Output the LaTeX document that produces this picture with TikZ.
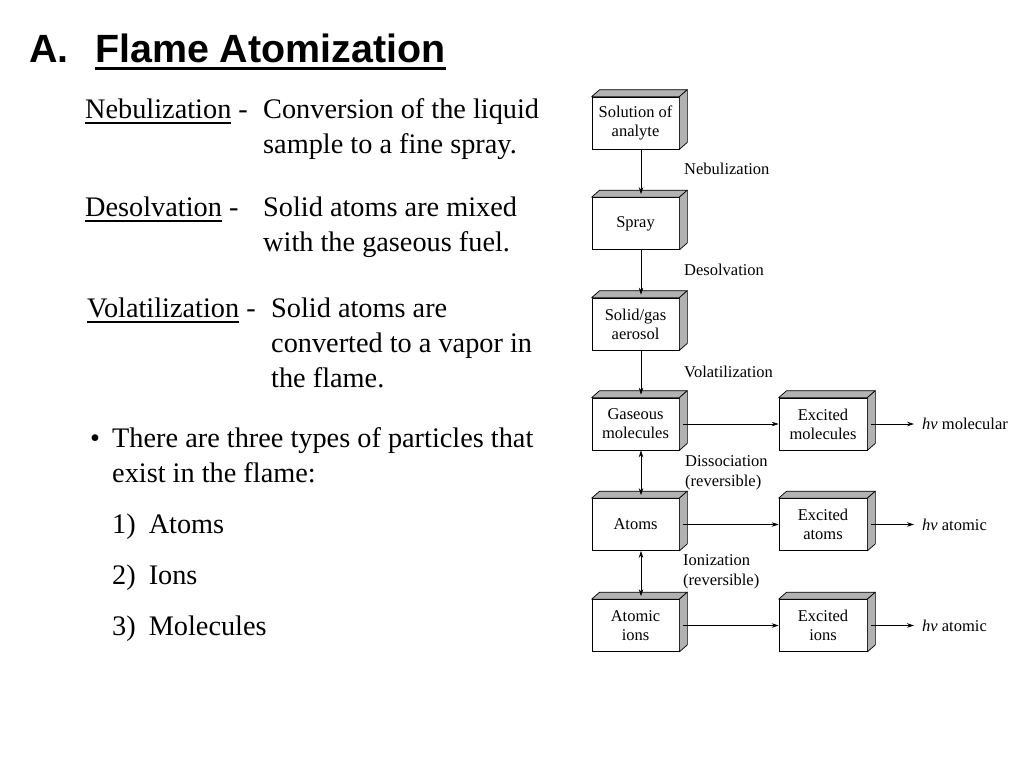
\documentclass[tikz,border=0pt]{standalone}
\usepackage{fontspec}
\setmainfont{Liberation Serif}
\newfontfamily\arialfont{Liberation Sans}
\usetikzlibrary{arrows.meta}
\newcommand\undl[1]{\setbox0\hbox{#1}\rlap{\rule[-6pt]{\wd0}{1.6pt}}\box0\relax}
\begin{document}
\begin{tikzpicture}[x=1pt,y=-1pt,
  title/.style={anchor=base west, inner sep=0pt, font=\arialfont\bfseries\fontsize{39.4}{47}\selectfont},
  body/.style={anchor=base west, inner sep=0pt, font=\fontsize{28.3}{35}\selectfont},
  box/.style={draw, fill=white, minimum width=87pt, minimum height=52pt, inner sep=0pt, align=center, font=\fontsize{16.5}{19}\selectfont, line width=0.7pt},
  lbl/.style={anchor=west, inner sep=0pt, font=\fontsize{16.5}{19.5}\selectfont, align=left},
  arr/.style={-{Stealth[length=7pt,width=4.5pt]}, line width=0.7pt},
  darr/.style={{Stealth[length=7pt,width=4.5pt]}-{Stealth[length=7pt,width=4.5pt]}, line width=0.7pt},
  face/.style={fill=gray!60, draw, line width=0.7pt, line join=round}]

\useasboundingbox[fill=white] (0,0) rectangle (1024,768);

% title
\node[title] (tA) at (29,63) {A.};
\node[title] (tT) at (95,63) {Flame Atomization};
\draw[line width=3pt] ([yshift=-5.5pt]tT.base west) -- ([yshift=-5.5pt]tT.base east);

% left text
\node[body] (neb) at (85,118) {\undl{Nebulization} -};
\node[body] (nebd) at (263,118) {\begin{tabular}[t]{@{}l@{}}Conversion of the liquid\\ sample to a fine spray.\end{tabular}};
\node[body] (des) at (85,216) {\undl{Desolvation} -};
\node[body] (desd) at (263,216) {\begin{tabular}[t]{@{}l@{}}Solid atoms are mixed\\ with the gaseous fuel.\end{tabular}};
\node[body] (vol) at (87,317) {\undl{Volatilization} -};
\node[body] (vold) at (271,317) {\begin{tabular}[t]{@{}l@{}}Solid atoms are\\ converted to a vapor in\\ the flame.\end{tabular}};
\node[body] (bul) at (90,447) {•};
\node[body] (bult) at (112,447) {\begin{tabular}[t]{@{}l@{}}There are three types of particles that\\ exist in the flame:\end{tabular}};
\node[body] (l1) at (112,533) {1)\hspace{13pt}Atoms};
\node[body] (l2) at (112,584) {2)\hspace{13pt}Ions};
\node[body] (l3) at (112,635) {3)\hspace{13pt}Molecules};

% diagram boxes
\node[box] (sol) at (635.5,123) {Solution of\\analyte};
\node[box] (spray) at (635.5,223.5) {Spray};
\node[box] (aero) at (635.5,324) {Solid/gas\\aerosol};
\node[box] (gas) at (635.5,424) {Gaseous\\molecules};
\node[box] (atoms) at (635.5,524.5) {Atoms};
\node[box] (ions) at (635.5,625.5) {Atomic\\ions};
\node[box, minimum width=88pt] (exm) at (823,424) {Excited\\molecules};
\node[box, minimum width=88pt] (exa) at (823,524.5) {Excited\\atoms};
\node[box, minimum width=88pt] (exi) at (823,625.5) {Excited\\ions};

\foreach \n in {sol,spray,aero,gas,atoms,ions,exm,exa,exi}{
  \draw[face] (\n.north west) -- ++(8,-7) -- ([shift={(8,-7)}]\n.north east) -- (\n.north east) -- cycle;
  \draw[face] (\n.north east) -- ([shift={(8,-7)}]\n.north east) -- ([shift={(8,-7)}]\n.south east) -- (\n.south east) -- cycle;
}

% vertical connectors
\draw[arr] ([xshift=5.5pt]sol.south) -- ([shift={(5.5,-3)}]spray.north);
\draw[arr] ([xshift=5.5pt]spray.south) -- ([shift={(5.5,-3)}]aero.north);
\draw[arr] ([xshift=5.5pt]aero.south) -- ([shift={(5.5,-3)}]gas.north);
\draw[darr] ([xshift=5.5pt]gas.south) -- ([shift={(5.5,-3)}]atoms.north);
\draw[darr] ([xshift=5.5pt]atoms.south) -- ([shift={(5.5,-3)}]ions.north);

% horizontal connectors
\draw[arr] ([xshift=4pt]gas.east) -- (exm.west);
\draw[arr] ([xshift=4pt]atoms.east) -- (exa.west);
\draw[arr] ([xshift=4pt]ions.east) -- (exi.west);

% emission labels
\node[lbl] (hv1) at (922,424) {{\itshape hν} molecular};
\node[lbl] (hv2) at (922,524.5) {{\itshape hν} atomic};
\node[lbl] (hv3) at (922,625.5) {{\itshape hν} atomic};
\draw[arr] ([xshift=4pt]exm.east) -- ([xshift=-8pt]hv1.west);
\draw[arr] ([xshift=4pt]exa.east) -- ([xshift=-8pt]hv2.west);
\draw[arr] ([xshift=4pt]exi.east) -- ([xshift=-8pt]hv3.west);

% step labels
\node[lbl] (lneb) at (684,169) {Nebulization};
\node[lbl] (ldes) at (684,270) {Desolvation};
\node[lbl] (lvol) at (684,372) {Volatilization};
\node[lbl] (ldis) at (685,473) {Dissociation\\(reversible)};
\node[lbl] (lion) at (683,572) {Ionization\\(reversible)};
\end{tikzpicture}
\end{document}
